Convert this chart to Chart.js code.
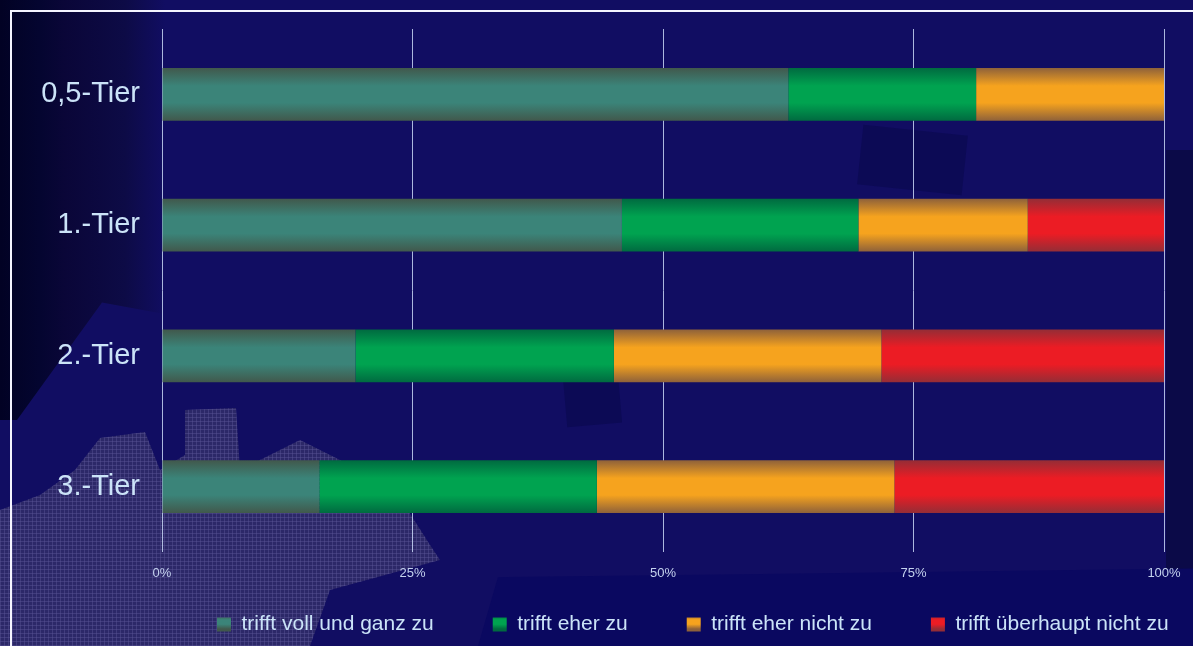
<!DOCTYPE html>
<html lang="de">
  <head>
    <meta charset="UTF-8" />
    <meta name="viewport" content="width=device-width, initial-scale=1.0" />
    <title>Zustimmung nach Tier</title>
    <style>
      html,
      body {
        margin: 0;
        padding: 0;
        width: 1193px;
        height: 646px;
        overflow: hidden;
        background: #110d62;
        font-family: "Liberation Sans", Arial, sans-serif;
      }
      .bg-left {
        position: absolute;
        left: 0;
        top: 0;
        width: 170px;
        height: 420px;
        background: linear-gradient(
          to right,
          #020224 0,
          #040530 40px,
          #0a0638 65px,
          #0d0b46 125px,
          #110d62 165px
        );
        clip-path: polygon(0 0, 100% 0, 100% 75%, 60% 72%, 10% 100%, 0 100%);
      }
      .bg-gear {
        position: absolute;
        left: 0;
        top: 400px;
        width: 460px;
        height: 246px;
        background-color: #2c2868;
        background-image: repeating-linear-gradient(
            0deg,
            rgba(90, 85, 150, 0.45) 0,
            rgba(90, 85, 150, 0.45) 1px,
            transparent 1px,
            transparent 4px
          ),
          repeating-linear-gradient(
            90deg,
            rgba(90, 85, 150, 0.45) 0,
            rgba(90, 85, 150, 0.45) 1px,
            transparent 1px,
            transparent 4px
          );
        clip-path: polygon(
          0 110px,
          40px 95px,
          75px 70px,
          100px 38px,
          145px 32px,
          160px 70px,
          185px 55px,
          185px 10px,
          236px 8px,
          240px 70px,
          300px 40px,
          360px 70px,
          395px 90px,
          430px 145px,
          440px 160px,
          330px 190px,
          310px 246px,
          0 246px
        );
      }
      .bg-dark {
        position: absolute;
        background: #0c0a55;
      }
      .frame {
        position: absolute;
        left: 10px;
        top: 10px;
        width: 1200px;
        height: 700px;
        border-top: 2px solid #f4f4ff;
        border-left: 2px solid #f4f4ff;
      }
      #chart-wrap {
        position: absolute;
        left: 0;
        top: 0;
        width: 1193px;
        height: 646px;
      }
    </style>
  </head>

  <body>
    <div class="bg-left"></div>
    <div class="bg-dark" style="left: 860px; top: 130px; width: 105px; height: 60px; transform: rotate(6deg)"></div>
    <div class="bg-dark" style="left: 565px; top: 375px; width: 55px; height: 50px; transform: rotate(-5deg)"></div>
    <div class="bg-dark" style="left: 1166px; top: 150px; width: 27px; height: 420px; background: #0b0a48"></div>
    <div class="bg-dark" style="left: 200px; top: 560px; width: 993px; height: 86px; background: #0a0860; clip-path: polygon(30% 20%, 100% 10%, 100% 100%, 28% 100%)"></div>
    <div class="bg-gear"></div>
    <div class="frame"></div>
    <div id="chart-wrap"><canvas id="tier-chart"></canvas></div>

    <script src="https://cdn.jsdelivr.net/npm/chart.js"></script>
    <script>
      // Daten (Anteile in %)
      const categories = ["0,5-Tier", "1.-Tier", "2.-Tier", "3.-Tier"];
      const seriesNames = [
        "trifft voll und ganz zu",
        "trifft eher zu",
        "trifft eher nicht zu",
        "trifft überhaupt nicht zu",
      ];
      const vollUndGanz = [62.5, 45.9, 19.3, 15.7];
      const eherZu = [18.75, 23.6, 25.8, 27.7];
      const eherNicht = [18.75, 16.9, 26.7, 29.7];
      const ueberhauptNicht = [0, 13.6, 28.2, 26.9];
      const xTicks = [0, 25, 50, 75, 100];

      // Farben: Rand / Mitte
      const edgeColors = ["#41584c", "#006a40", "#8e613a", "#942d36"];
      const midColors = ["#3b8479", "#00a350", "#f6a31e", "#ec1c24"];

      const BAR_PCT = 0.405;
      const LEGEND_PAD = 59;
      const LEGEND_Y = 622;

      function verticalGradient(ctx2d, i, y0, y1) {
        const g = ctx2d.createLinearGradient(0, y0, 0, y1);
        g.addColorStop(0, edgeColors[i]);
        g.addColorStop(0.34, midColors[i]);
        g.addColorStop(0.66, midColors[i]);
        g.addColorStop(1, edgeColors[i]);
        return g;
      }

      function barGradient(i) {
        return function (ctx) {
          const chart = ctx.chart;
          const area = chart.chartArea;
          if (!area || !chart.scales.y) return midColors[i];
          const yc = chart.scales.y.getPixelForValue(ctx.dataIndex);
          const h = ((area.bottom - area.top) / categories.length) * BAR_PCT;
          return verticalGradient(chart.ctx, i, yc - h / 2, yc + h / 2);
        };
      }

      const allValues = [vollUndGanz, eherZu, eherNicht, ueberhauptNicht];
      const datasets = allValues.map((values, i) => ({
        label: seriesNames[i],
        data: values,
        backgroundColor: barGradient(i),
        borderWidth: 0,
        barPercentage: BAR_PCT,
        categoryPercentage: 1,
      }));

      // Legende: feste Höhe, dann an die Stelle des Originals schieben
      const legendShift = {
        id: "legendShift",
        beforeInit(chart) {
          const lg = chart.legend;
          if (!lg) return;
          const fit = lg.fit;
          lg.fit = function () {
            fit.call(this);
            this.height = 64;
          };
        },
        afterLayout(chart) {
          const lg = chart.legend;
          if (!lg) return;
          lg.left = 177 + 40 - LEGEND_PAD;
          lg.right = 1250;
          lg.top = LEGEND_Y - LEGEND_PAD - 8;
          lg.bottom = chart.height;
        },
      };

      new Chart(document.getElementById("tier-chart"), {
        type: "bar",
        data: { labels: categories, datasets: datasets },
        plugins: [legendShift],
        options: {
          indexAxis: "y",
          responsive: true,
          maintainAspectRatio: false,
          animation: false,
          layout: { padding: { left: 12, right: 29, top: 29, bottom: 0 } },
          scales: {
            x: {
              stacked: true,
              min: 0,
              max: 100,
              afterBuildTicks: (s) => {
                s.ticks = xTicks.map((v) => ({ value: v }));
              },
              afterFit: (s) => {
                s.height = 30;
                s.paddingLeft = 0;
                s.paddingRight = 0;
              },
              grid: {
                color: "rgba(200, 214, 245, 0.85)",
                lineWidth: 1,
                drawTicks: false,
              },
              border: { display: false },
              ticks: {
                padding: 14,
                color: "#c4d2ee",
                font: { family: "Liberation Sans", size: 13 },
                callback: (v) => v + "%",
              },
            },
            y: {
              stacked: true,
              afterFit: (s) => {
                s.width = 150;
                s.paddingTop = 0;
                s.paddingBottom = 0;
              },
              grid: { display: false, drawTicks: false },
              border: { display: false },
              ticks: {
                padding: 22,
                color: "#cbe3f8",
                font: { family: "Liberation Sans", size: 29 },
              },
            },
          },
          plugins: {
            legend: {
              position: "bottom",
              align: "start",
              labels: {
                boxWidth: 14,
                boxHeight: 14,
                padding: LEGEND_PAD,
                color: "#cbe3f8",
                font: { family: "Liberation Sans", size: 21 },
                generateLabels: (chart) =>
                  Chart.defaults.plugins.legend.labels
                    .generateLabels(chart)
                    .map((item, i) => ({
                      ...item,
                      fillStyle: verticalGradient(chart.ctx, i, LEGEND_Y - 7, LEGEND_Y + 7),
                    })),
              },
            },
            tooltip: { enabled: false },
          },
        },
      });
    </script>
  </body>
</html>
